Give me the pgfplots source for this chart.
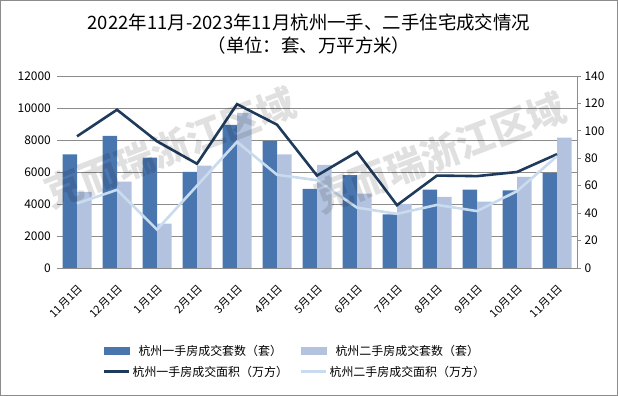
\documentclass[border=0pt]{standalone}
\usepackage{fontspec}
\setmainfont{Noto Sans CJK SC}
\usepackage{pgfplots}
\pgfplotsset{compat=1.18}
\definecolor{barA}{HTML}{4A76B0}
\definecolor{barB}{HTML}{B3C3DF}
\definecolor{lineA}{HTML}{1F3B5C}
\definecolor{lineB}{HTML}{C9DBEF}
\definecolor{gridc}{HTML}{8C8C8C}
\begin{document}
\begin{tikzpicture}
\path[use as bounding box] (0bp,0bp) rectangle (618bp,396bp);
\draw[gridc, line width=1bp] (0.5bp,0.5bp) rectangle (617.5bp,395.5bp);
\node at (309bp,374bp) {\fontsize{18.5}{20}\selectfont 2022年11月-2023年11月杭州一手、二手住宅成交情况};
\node at (309bp,350bp) {\fontsize{18.5}{20}\selectfont （单位：套、万平方米）};
\begin{axis}[at={(57bp,128bp)}, anchor=south west, scale only axis,
  width=520bp, height=192bp,
  xmin=-0.5, xmax=12.5, ymin=0, ymax=12000,
  ybar=0pt, bar width=14.5bp,
  xtick={0,...,12},
  xticklabels={11月1日,12月1日,1月1日,2月1日,3月1日,4月1日,5月1日,6月1日,7月1日,8月1日,9月1日,10月1日,11月1日},
  xticklabel style={rotate=45, anchor=north east, inner sep=11bp, font=\fontsize{11}{12}\selectfont},
  ytick={0,2000,...,12000},
  scaled y ticks=false,
  yticklabel style={font=\fontsize{12}{12}\selectfont, inner sep=6bp},
  /pgf/number format/assume math mode=true,
  /pgf/number format/1000 sep={},
  ymajorgrids, grid style={gridc, line width=0.8bp},
  axis line style={draw=none}, major tick length=0pt,
  clip=false]
\addplot[fill=barA, draw=none] coordinates {(0,7100)(1,8250)(2,6900)(3,6000)(4,8950)(5,7950)(6,4950)(7,5800)(8,3350)(9,4900)(10,4900)(11,4850)(12,5950)};
\addplot[fill=barB, draw=none] coordinates {(0,4750)(1,5400)(2,2780)(3,6400)(4,9700)(5,7100)(6,6450)(7,4650)(8,4000)(9,4450)(10,4150)(11,5700)(12,8150)};
\end{axis}
\begin{axis}[at={(57bp,128bp)}, anchor=south west, scale only axis,
  width=520bp, height=192bp,
  xmin=-0.5, xmax=12.5, ymin=0, ymax=140,
  axis x line=none, axis y line*=right,
  y axis line style={gridc, line width=0.8bp},
  ytick={0,20,...,140}, tick align=outside, major tick length=4bp,
  ytick style={gridc, line width=0.8bp},
  yticklabel style={font=\fontsize{12}{12}\selectfont},
  /pgf/number format/assume math mode=true,
  legend columns=2,
  legend style={at={(0.088,-0.39)}, anchor=north west, draw=none, fill=none,
    font=\fontsize{12}{13}\selectfont, row sep=5bp, inner sep=0pt,
    /tikz/every even column/.append style={column sep=10bp}},
  clip=false]
\addlegendimage{legend image code/.code={\fill[barA] (0bp,-3.5bp) rectangle (25bp,3.5bp);}}
\addlegendentry{杭州一手房成交套数（套）}
\addlegendimage{legend image code/.code={\fill[barB] (0bp,-3.5bp) rectangle (25bp,3.5bp);}}
\addlegendentry{杭州二手房成交套数（套）}
\addplot[lineA, line width=2.6bp, sharp plot, no marks, legend image code/.code={\draw[lineA, line width=2.6bp] (0bp,0bp)--(25bp,0bp);}] coordinates {(0,96)(1,115.4)(2,92.4)(3,76)(4,119.5)(5,104.5)(6,67.4)(7,84.6)(8,45.8)(9,67.4)(10,67)(11,70)(12,83)};
\addlegendentry{杭州一手房成交面积（万方）}
\addplot[lineB, line width=2.6bp, sharp plot, no marks, legend image code/.code={\draw[lineB, line width=2.6bp] (0bp,0bp)--(25bp,0bp);}] coordinates {(0,47)(1,57)(2,28)(3,60)(4,92)(5,68)(6,64)(7,44)(8,39.5)(9,46)(10,41.5)(11,56)(12,81.5)};
\addlegendentry{杭州二手房成交面积（万方）}
\end{axis}
\node[rotate=21, text=black, opacity=0.12, font=\fontsize{38}{40}\selectfont\bfseries] at (170bp,248bp) {克而瑞浙江区域};
\node[rotate=21, text=black, opacity=0.12, font=\fontsize{38}{40}\selectfont\bfseries] at (440bp,243bp) {克而瑞浙江区域};
\end{tikzpicture}
\end{document}
